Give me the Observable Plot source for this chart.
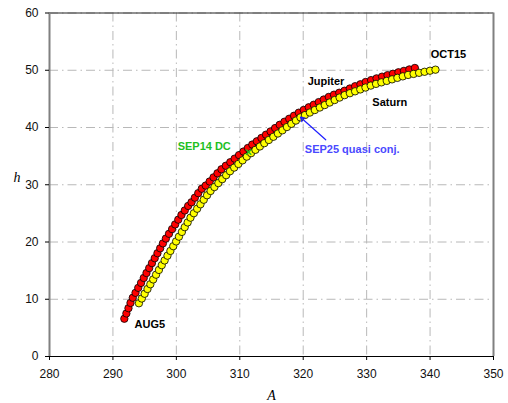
<!DOCTYPE html>
<html><head><meta charset="utf-8">
<script src="https://cdn.jsdelivr.net/npm/d3@7"></script>
<script src="https://cdn.jsdelivr.net/npm/@observablehq/plot@0.6"></script>
<style>body{margin:0;background:#fff}</style>
</head><body><div id="chart"></div>
<script>
// Jupiter (red), daily AUG5 .. OCT15
const jupiterA = [291.8,292.12,292.45,292.77,293.13,293.56,293.99,294.43,294.86,295.29,295.72,296.15,296.59,297.02,297.45,297.88,298.35,298.84,299.33,299.81,300.30,300.80,301.33,301.86,302.39,302.92,303.45,304.01,304.63,305.25,305.86,306.48,307.11,307.80,308.50,309.19,309.88,310.58,311.27,311.97,312.69,313.41,314.13,314.85,315.57,316.29,317.04,317.79,318.55,319.30,320.08,320.87,321.66,322.45,323.24,324.03,324.85,325.68,326.51,327.35,328.18,329.02,329.85,330.70,331.56,332.43,333.29,334.15,335.01,335.87,336.73,337.6];
const jupiterH = [6.6,7.52,8.44,9.36,10.26,11.12,11.99,12.85,13.72,14.58,15.44,16.31,17.17,18.04,18.90,19.76,20.60,21.43,22.25,23.07,23.90,24.72,25.51,26.30,26.94,27.74,28.53,29.30,29.86,30.57,31.29,32.00,32.70,33.32,33.94,34.56,35.18,35.80,36.42,37.02,37.59,38.17,38.75,39.32,39.90,40.47,41.01,41.53,42.06,42.59,43.07,43.53,43.98,44.44,44.89,45.34,45.73,46.07,46.42,46.81,47.21,47.55,47.95,48.28,48.58,48.88,49.14,49.39,49.64,49.89,50.14,50.4];
// Saturn (yellow)
const saturnA = [294.1,294.55,295.00,295.45,295.90,296.35,296.80,297.25,297.70,298.15,298.60,299.06,299.51,299.96,300.41,300.87,301.32,301.78,302.23,302.76,303.28,303.80,304.32,304.84,305.39,306.00,306.62,307.23,307.85,308.46,309.12,309.78,310.44,311.10,311.78,312.47,313.17,313.87,314.58,315.30,316.01,316.72,317.43,318.14,318.85,319.56,320.27,321.05,321.83,322.62,323.40,324.18,324.96,325.74,326.53,327.36,328.18,329.00,329.82,330.65,331.48,332.32,333.17,334.01,334.85,335.70,336.54,337.40,338.27,339.13,339.99,340.85];
const saturnH = [9.3,10.13,10.96,11.79,12.62,13.46,14.29,15.12,15.95,16.78,17.61,18.44,19.27,20.10,20.93,21.76,22.59,23.42,24.25,25.03,25.81,26.59,27.38,28.16,28.91,29.60,30.29,30.98,31.67,32.36,33.00,33.63,34.27,34.91,35.52,36.10,36.69,37.26,37.82,38.38,38.95,39.51,40.08,40.64,41.21,41.77,42.17,42.61,43.05,43.49,43.92,44.36,44.80,45.23,45.65,45.99,46.32,46.65,46.98,47.32,47.62,47.88,48.14,48.41,48.67,48.93,49.18,49.36,49.55,49.73,49.92,50.1];

const xTicks = [280,290,300,310,320,330,340,350];
const yTicks = [0,10,20,30,40,50,60];

const labelText  = ["AUG5","OCT15","Jupiter","Saturn","SEP14 DC","SEP25 quasi conj."];
const labelA     = [293.4, 340.1, 320.7, 330.9, 300.2, 320.25];
const labelH     = [5.6, 52.7, 48.1, 44.4, 36.7, 36.2];
const labelColor = ["#000","#000","#000","#000","#1fbf1f","#4a4aff"];

const dcPoint = [{A: 311.4, h: 35.7}];
const conjArrow = [{A1: 323.55, h1: 37.85, A2: 319.57, h2: 41.8}];

const jup = jupiterA.map((a,i)=>({A:a,h:jupiterH[i]}));
const sat = saturnA.map((a,i)=>({A:a,h:saturnH[i]}));
const labels = labelText.map((t,i)=>({t, A:labelA[i], h:labelH[i], c:labelColor[i]}));

const font = "Liberation Sans, Arial, sans-serif";

const chart = Plot.plot({
  width: 508, height: 403,
  marginLeft: 49, marginRight: 15, marginTop: 12.5, marginBottom: 47,
  style: {fontFamily: font, background: "#fff"},
  x: {domain: [280, 350]},
  y: {domain: [0, 60]},
  marks: [
    Plot.gridX(xTicks, {stroke: "#b8b8b8", strokeOpacity: 1, strokeDasharray: "9,4,1.5,4"}),
    Plot.gridY(yTicks, {stroke: "#b8b8b8", strokeOpacity: 1, strokeDasharray: "9,4,1.5,4"}),
    Plot.ruleY([60], {stroke: "#222", strokeWidth: 1}),
    Plot.ruleY([0], {stroke: "#000", strokeWidth: 1.2}),
    Plot.ruleX([280], {stroke: "#808080", strokeWidth: 2}),
    Plot.ruleX([350], {stroke: "#808080", strokeWidth: 2}),
    Plot.axisX(xTicks, {tickSize: 4, tickPadding: 9, fontSize: 12, label: null, stroke: "#000", fill: "#111"}),
    Plot.axisY(yTicks, {tickSize: 4, tickPadding: 7, fontSize: 12, label: null, stroke: "#000", fill: "#111"}),
    Plot.dot(jup, {x: "A", y: "h", r: 3.7, fill: "#ff0000", stroke: "#000", strokeWidth: 0.8}),
    Plot.dot(sat, {x: "A", y: "h", r: 3.7, fill: "#ffff00", stroke: "#000", strokeWidth: 0.8}),
    Plot.dot(dcPoint, {x: "A", y: "h", symbol: "times", r: 2.5, stroke: "#1fbf1f", strokeWidth: 1.3}),
    Plot.arrow(conjArrow, {x1: "A1", y1: "h1", x2: "A2", y2: "h2", stroke: "#2020ff", strokeWidth: 1.2, headLength: 6}),
    Plot.text(labels, {x: "A", y: "h", text: "t", fill: "c", textAnchor: "start", fontSize: 11, fontWeight: "bold"}),
    Plot.text(["A"], {frameAnchor: "bottom", dy: 43, fontStyle: "italic", fontFamily: "Liberation Serif, Times New Roman, serif", fontSize: 14}),
    Plot.text(["h"], {frameAnchor: "left", dx: -36, dy: -7.5, fontStyle: "italic", fontFamily: "Liberation Serif, Times New Roman, serif", fontSize: 14})
  ]
});
document.getElementById("chart").appendChild(chart);
</script>
</body></html>
